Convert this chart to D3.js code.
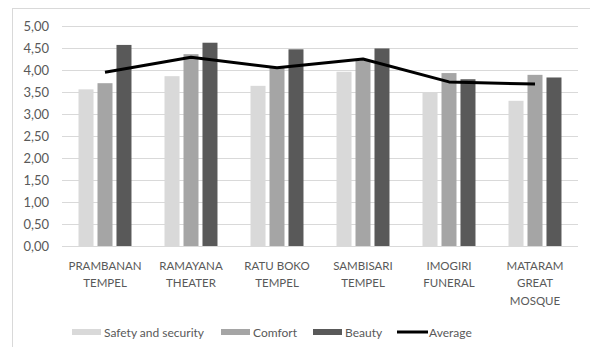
<!DOCTYPE html>
<html>
<head>
<meta charset="utf-8">
<script src="https://cdn.jsdelivr.net/npm/d3@7/dist/d3.min.js"></script>
<style>
  html, body { margin: 0; padding: 0; background: #fff; }
  svg { display: block; }
  text { font-family: Lato, "Open Sans", sans-serif; fill: #595959; }
</style>
</head>
<body>
<svg id="chart" width="590" height="347"></svg>
<script>
// Destination ratings per attribute
const categories = [
  ["PRAMBANAN", "TEMPEL"],
  ["RAMAYANA", "THEATER"],
  ["RATU BOKO", "TEMPEL"],
  ["SAMBISARI", "TEMPEL"],
  ["IMOGIRI", "FUNERAL"],
  ["MATARAM", "GREAT", "MOSQUE"]
];
const safety  = [3.56, 3.86, 3.64, 3.96, 3.49, 3.30];
const comfort = [3.70, 4.36, 4.07, 4.22, 3.93, 3.89];
const beauty  = [4.57, 4.62, 4.47, 4.49, 3.79, 3.83];
const average = [3.95, 4.29, 4.05, 4.25, 3.73, 3.68];
const yTicks  = [0, 0.5, 1, 1.5, 2, 2.5, 3, 3.5, 4, 4.5, 5];

const series = [
  { name: "Safety and security", values: safety,  color: "#d9d9d9" },
  { name: "Comfort",             values: comfort, color: "#a5a5a5" },
  { name: "Beauty",              values: beauty,  color: "#595959" }
];

const svg = d3.select("#chart");
const plot = { left: 62, right: 578, top: 26, bottom: 246 };

// chart frame
svg.append("rect")
  .attr("x", 12.5).attr("y", 8.5)
  .attr("width", 600).attr("height", 400)
  .attr("fill", "none").attr("stroke", "#d9d9d9").attr("stroke-width", 1);

const x = d3.scaleBand()
  .domain(d3.range(categories.length))
  .range([plot.left, plot.right]);

const y = d3.scaleLinear().domain([0, 5]).range([plot.bottom, plot.top]);

const inner = d3.scaleBand()
  .domain(d3.range(series.length))
  .range([0, x.bandwidth()])
  .paddingInner(0.21)
  .paddingOuter(0.87);

// gridlines
svg.append("g")
  .selectAll("line")
  .data(yTicks)
  .join("line")
  .attr("x1", plot.left).attr("x2", plot.right)
  .attr("y1", d => Math.round(y(d)) + 0.5)
  .attr("y2", d => Math.round(y(d)) + 0.5)
  .attr("stroke", "#d9d9d9").attr("stroke-width", 1);

// y axis labels
const fmt = d => d.toFixed(2).replace(".", ",");
const yAxis = d3.axisLeft(y).tickValues(yTicks).tickFormat(fmt).tickSize(0).tickPadding(13);
const gy = svg.append("g").attr("transform", `translate(${plot.left},0)`).call(yAxis);
gy.select(".domain").remove();
gy.selectAll("text").style("font-size", "13px").attr("fill", "#595959")
  .style("font-family", "Lato, 'Open Sans', sans-serif");

// bars
series.forEach((s, si) => {
  svg.append("g")
    .selectAll("rect")
    .data(s.values)
    .join("rect")
    .attr("x", (d, i) => x(i) + inner(si))
    .attr("width", inner.bandwidth())
    .attr("y", d => y(d))
    .attr("height", d => y(0) - y(d))
    .attr("fill", s.color);
});

// average line
const line = d3.line()
  .x((d, i) => x(i) + x.bandwidth() / 2)
  .y(d => y(d));
svg.append("path")
  .datum(average)
  .attr("d", line)
  .attr("fill", "none")
  .attr("stroke", "#000")
  .attr("stroke-width", 3)
  .attr("stroke-linejoin", "round");

// category labels
const cat = svg.append("g")
  .selectAll("text")
  .data(categories)
  .join("text")
  .attr("text-anchor", "middle")
  .style("font-size", "11.5px");
cat.selectAll("tspan")
  .data((d, i) => d.map(t => ({ t, i })))
  .join("tspan")
  .attr("x", d => x(d.i) + x.bandwidth() / 2)
  .attr("y", (d, j) => 269.5 + j * 17.5)
  .text(d => d.t);

// legend
const legendItems = [
  { name: "Safety and security", color: "#d9d9d9", type: "rect", x: 72 },
  { name: "Comfort", color: "#a5a5a5", type: "rect", x: 221 },
  { name: "Beauty", color: "#595959", type: "rect", x: 313 },
  { name: "Average", color: "#000", type: "line", x: 397 }
];
const lg = svg.append("g");
legendItems.forEach(item => {
  if (item.type === "rect") {
    lg.append("rect").attr("x", item.x).attr("y", 329).attr("width", 29).attr("height", 6).attr("fill", item.color);
  } else {
    lg.append("line").attr("x1", item.x).attr("x2", item.x + 31).attr("y1", 332).attr("y2", 332)
      .attr("stroke", item.color).attr("stroke-width", 3);
  }
  lg.append("text")
    .attr("x", item.x + 32)
    .attr("y", 336.5)
    .style("font-size", "12px")
    .text(item.name);
});
</script>
</body>
</html>
